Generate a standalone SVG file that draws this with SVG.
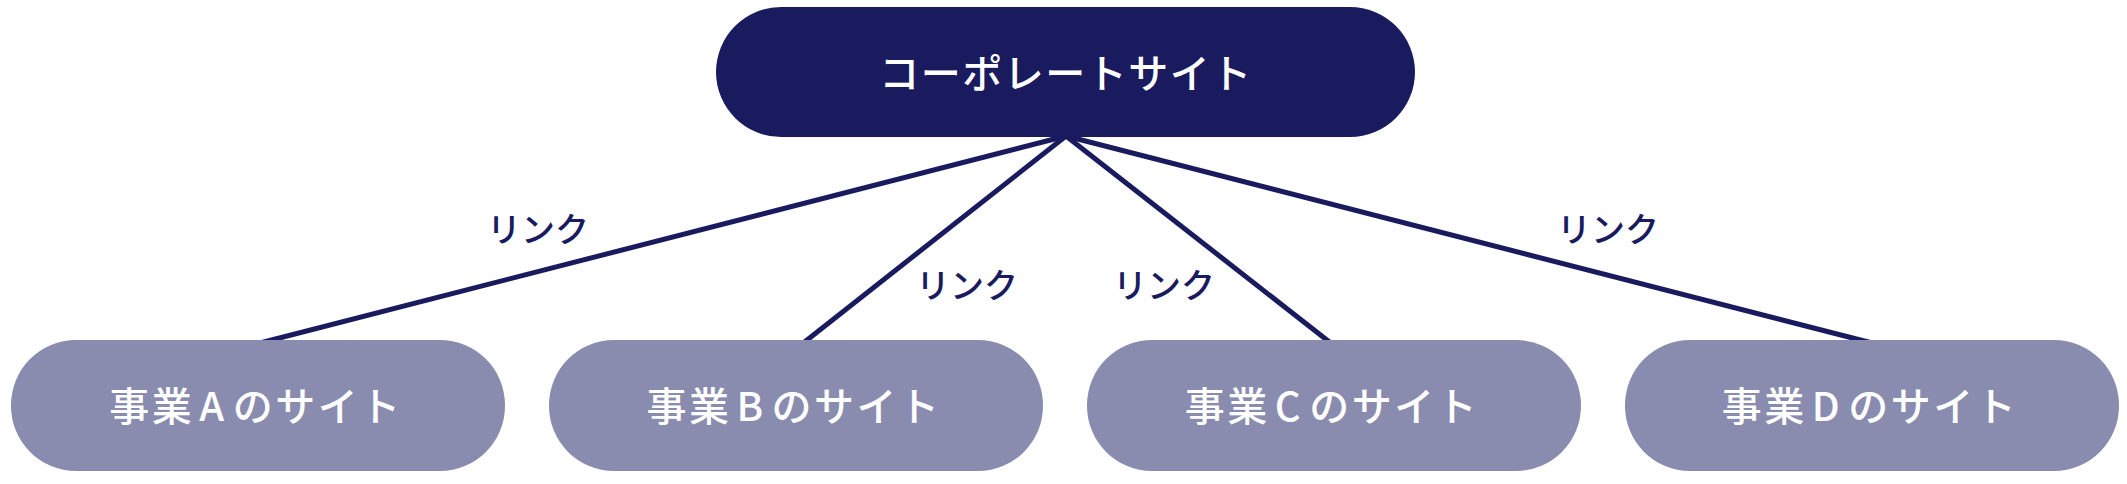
<svg xmlns="http://www.w3.org/2000/svg" width="2127" height="484" viewBox="0 0 2127 484">
<style>
.top{fill:#1a1b5e}
.sub{fill:#898cae}
.nt{fill:#ffffff;font-family:"Noto Sans CJK JP","Noto Sans",sans-serif;font-size:40px;font-weight:500;text-anchor:middle}
.lbl{fill:#1a1b5e;font-family:"Noto Sans CJK JP","Noto Sans",sans-serif;font-size:34px;font-weight:500;text-anchor:middle}
.con{stroke:#1a1b5e;stroke-width:5;fill:none}
</style>
<rect width="2127" height="484" fill="#ffffff"/>
<g id="connectors">
<line class="con" x1="1066" y1="136" x2="256" y2="344"/>
<line class="con" x1="1066" y1="136" x2="802" y2="344"/>
<line class="con" x1="1066" y1="136" x2="1332" y2="344"/>
<line class="con" x1="1066" y1="136" x2="1876" y2="344"/>
<text class="lbl" x="538" y="242">リンク</text>
<text class="lbl" x="967" y="298">リンク</text>
<text class="lbl" x="1164" y="298">リンク</text>
<text class="lbl" x="1608" y="242">リンク</text>
</g>
<g id="node-corporate">
<rect class="top" x="716" y="7" width="699" height="130" rx="65"/>
<text class="nt" x="1066" y="88" letter-spacing="1.5">コーポレートサイト</text>
</g>
<g id="node-a">
<rect class="sub" x="11" y="340" width="494" height="131" rx="65"/>
<text class="nt" x="256" y="421" letter-spacing="2.5">事業<tspan dx="5">A</tspan><tspan dx="6">のサイト</tspan></text>
</g>
<g id="node-b">
<rect class="sub" x="549" y="340" width="494" height="131" rx="65"/>
<text class="nt" x="794" y="421" letter-spacing="2.5">事業<tspan dx="5">B</tspan><tspan dx="6">のサイト</tspan></text>
</g>
<g id="node-c">
<rect class="sub" x="1087" y="340" width="494" height="131" rx="65"/>
<text class="nt" x="1332" y="421" letter-spacing="2.5">事業<tspan dx="5">C</tspan><tspan dx="6">のサイト</tspan></text>
</g>
<g id="node-d">
<rect class="sub" x="1625" y="340" width="494" height="131" rx="65"/>
<text class="nt" x="1870" y="421" letter-spacing="2.5">事業<tspan dx="5">D</tspan><tspan dx="6">のサイト</tspan></text>
</g>
</svg>
